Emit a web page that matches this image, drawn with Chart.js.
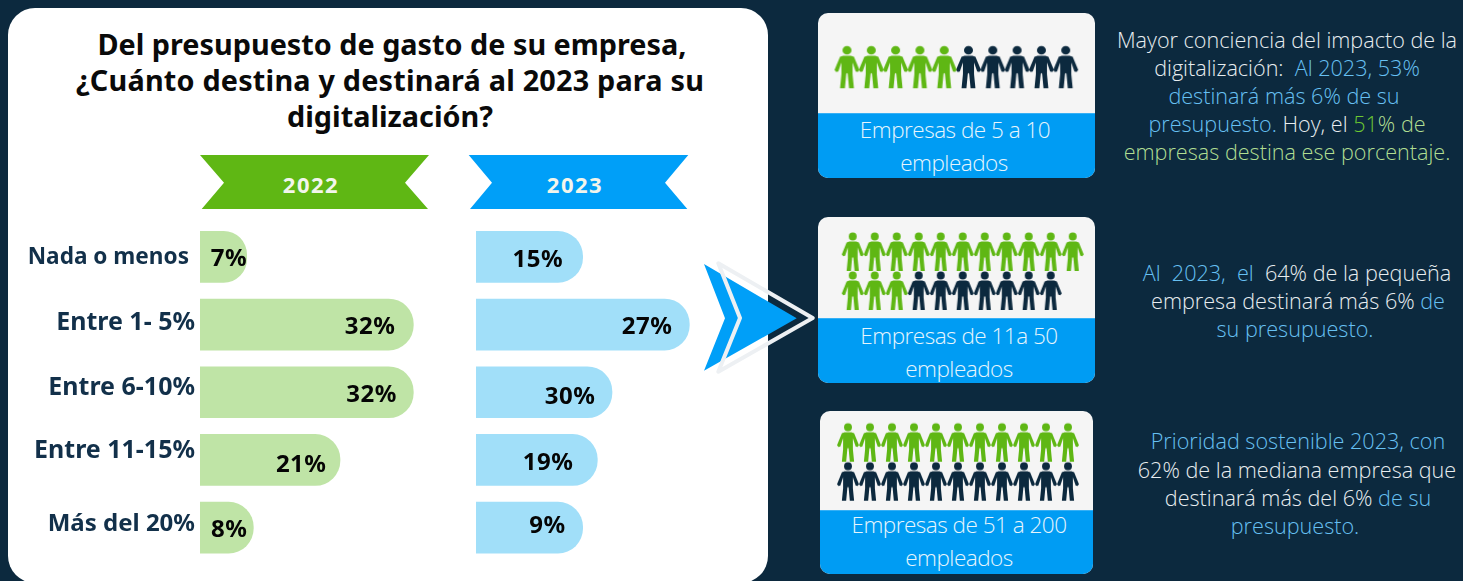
<!DOCTYPE html>
<html>
<head>
<meta charset="utf-8">
<script src="https://cdn.jsdelivr.net/npm/chart.js@4/dist/chart.umd.js"></script>
<style>
  html, body { margin: 0; padding: 0; background: #0c293e; }
  #page { position: relative; width: 1463px; height: 581px; overflow: hidden; background: #0c293e; }
  #panel { position: absolute; left: 8px; top: 8px; width: 760px; height: 575px; background: #fff; border-radius: 27px; }
  canvas { position: absolute; }
  svg { position: absolute; left: 0; top: 0; }
  .ln { position: absolute; white-space: nowrap; transform: translate(-50%, -50%); line-height: 1; }
  .title { font: 700 28.8px "Noto Sans"; color: #0a0a0a; }
  .ribbon { font: 700 22px "Noto Sans"; color: #f2f5ec; letter-spacing: 1.5px; }
  .card { position: absolute; background: #f5f5f5; border-radius: 10px; overflow: hidden; }
  .band { position: absolute; left: 0; right: 0; bottom: 0; background: #009cf3; border-top: 1px solid #36b0f5; }
  .cap { font: 300 22.5px "Open Sans"; color: #e6f5fd; letter-spacing: -0.5px; }
  .txt { font: 300 21.6px "Open Sans"; color: #e8edf0; }
  .b { color: #67c0f2; }
  .g { color: #b0de92; }
  .gg { color: #6cc832; }
</style>
</head>
<body>
<div id="page">
  <div id="panel"></div>

  <div class="ln title" style="left:392px;top:43px">Del presupuesto de gasto de su empresa,</div>
  <div class="ln title" style="left:390px;top:79px;letter-spacing:0.2px">¿Cuánto destina y destinará al 2023 para su</div>
  <div class="ln title" style="left:390px;top:115px">digitalización?</div>

  <svg width="1463" height="581">
    <polygon points="200,155 429,155 405,182.7 428,209 201.7,209 224,182.7" fill="#5fb714"/>
    <polygon points="468.7,155 688.3,155 665,182.7 687.3,209 470,209 492,182.7" fill="#009ff8"/>
    <polygon points="704,264 796.7,318.3 704,370.7 725,318.3" fill="#009ff8"/>
    <polygon points="718.3,263.3 812.7,318 718.3,371.7 740,318" fill="none" stroke="#edf0f3" stroke-width="4" stroke-linejoin="round"/>
  </svg>
  <div class="ln ribbon" style="left:311px;top:184px">2022</div>
  <div class="ln ribbon" style="left:575px;top:184px">2023</div>

  <canvas id="bars2022" width="440" height="340" style="left:0;top:222px"></canvas>
  <canvas id="bars2023" width="240" height="340" style="left:476px;top:222px"></canvas>

  <div class="card" style="left:818px;top:13px;width:277px;height:165px"><div class="band" style="height:64px"></div></div>
  <div class="card" style="left:818px;top:217px;width:277px;height:166px"><div class="band" style="height:64px"></div></div>
  <div class="card" style="left:820px;top:411px;width:273px;height:163px"><div class="band" style="height:63px"></div></div>

  <canvas id="people0"></canvas>
  <canvas id="people1"></canvas>
  <canvas id="people2"></canvas>

  <div class="ln cap" style="left:955px;top:129px">Empresas de 5 a 10</div>
  <div class="ln cap" style="left:954px;top:161.5px">empleados</div>
  <div class="ln cap" style="left:959px;top:335px">Empresas de 11a 50</div>
  <div class="ln cap" style="left:959px;top:367.5px">empleados</div>
  <div class="ln cap" style="left:959px;top:524px">Empresas de 51 a 200</div>
  <div class="ln cap" style="left:959px;top:556.5px">empleados</div>

  <div class="ln txt" style="left:1287px;top:39px">Mayor conciencia del impacto de la</div>
  <div class="ln txt" style="left:1287px;top:67px">digitalización:&nbsp; <span class="b">Al 2023, 53%</span></div>
  <div class="ln txt b" style="left:1284px;top:95px">destinará más 6% de su</div>
  <div class="ln txt" style="left:1287px;top:123px"><span class="b">presupuesto.</span> Hoy, el <span class="gg">51</span><span class="g">% de</span></div>
  <div class="ln txt g" style="left:1287px;top:151px">empresas destina ese porcentaje.</div>

  <div class="ln txt" style="left:1297px;top:272px"><span class="b">Al&nbsp; 2023,&nbsp; el</span>&nbsp; 64% de la pequeña</div>
  <div class="ln txt" style="left:1298px;top:300px">empresa destinará más 6% <span class="b">de</span></div>
  <div class="ln txt b" style="left:1295px;top:328px">su presupuesto.</div>

  <div class="ln txt b" style="left:1298px;top:440px">Prioridad sostenible 2023, con</div>
  <div class="ln txt" style="left:1297px;top:469px">62% de la mediana empresa que</div>
  <div class="ln txt" style="left:1298px;top:497px">destinará más del 6% <span class="b">de su</span></div>
  <div class="ln txt b" style="left:1295px;top:525px">presupuesto.</div>
</div>

<script>
const categories = ["Nada o menos", "Entre 1- 5%", "Entre 6-10%", "Entre 11-15%", "Más del 20%"];

const values2022 = [7, 32, 32, 21, 8];
const labels2022 = ["7%", "32%", "32%", "21%", "8%"];

// the 2023 bars in the picture are not proportional to what is printed on them,
// so the lengths are read off the picture on the same scale as 2022
const values2023 = [16, 32, 20.4, 18.2, 16];
const labels2023 = ["15%", "27%", "30%", "19%", "9%"];

const peopleTotal = [10, 21, 22];
const peopleGreen = [5, 14, 11];
const peoplePerRow = [10, 11, 11];

// text nudges, the labels in the original are not lined up with the bars
const catNudge = [[-11, 1], [-5, -1.4], [-5, -4], [-5, -9.4], [-5, -3.5]];
const catFont = [22.6, 25, 25, 25, 24];
const nudge2022 = [[0.5, 2], [-18, 2.5], [-16.5, 3], [-13.5, 5.5], [-6, 2.5]];
const nudge2023 = [[-19.5, 3.5], [-17, 2.5], [-16.7, 4.7], [-24, 3.5], [-17, -1.5]];

const peopleLayout = [
  { col0: 847, pitch: 24.3, row0: 66.7, rowPitch: 39, w: 25, h: 43 },
  { col0: 852.7, pitch: 22, row0: 251.5, rowPitch: 39, w: 22, h: 39 },
  { col0: 848, pitch: 22, row0: 442.2, rowPitch: 39, w: 22, h: 39 }
];

const barLabels = {
  id: "barLabels",
  afterDatasetsDraw(chart, args, opts) {
    const { ctx } = chart;
    const bars = chart.getDatasetMeta(0).data;
    ctx.save();
    ctx.textBaseline = "middle";
    ctx.textAlign = "right";
    ctx.font = '700 24px "Noto Sans"';
    ctx.letterSpacing = "0.5px";
    ctx.fillStyle = "#050505";
    bars.forEach((bar, i) => {
      ctx.fillText(opts.labels[i], bar.x + opts.nudge[i][0], bar.y + opts.nudge[i][1]);
    });
    ctx.letterSpacing = "0px";
    if (opts.cats) {
      const y = chart.scales.y;
      ctx.fillStyle = "#12304a";
      opts.cats.forEach((c, i) => {
        ctx.font = '700 ' + catFont[i] + 'px "Noto Sans"';
        ctx.fillText(c, chart.chartArea.left + catNudge[i][0], y.getPixelForValue(i) + catNudge[i][1]);
      });
    }
    ctx.restore();
  }
};

function barChart(id, values, labels, nudge, color, cats, padLeft) {
  return new Chart(document.getElementById(id), {
    type: "bar",
    data: {
      labels: categories,
      datasets: [{
        data: values,
        backgroundColor: color,
        barThickness: 51,
        borderSkipped: false,
        borderRadius: { topLeft: 0, bottomLeft: 0, topRight: 25, bottomRight: 25 }
      }]
    },
    options: {
      indexAxis: "y",
      responsive: false,
      animation: false,
      layout: { padding: { left: padLeft, top: 1, bottom: 0.5 } },
      scales: {
        x: { display: false, min: 0, max: 36 },
        y: { display: false }
      },
      plugins: {
        legend: { display: false },
        tooltip: { enabled: false },
        barLabels: { labels, nudge, cats }
      }
    },
    plugins: [barLabels]
  });
}

barChart("bars2022", values2022, labels2022, nudge2022, "#bfe4a6", categories, 200);
barChart("bars2023", values2023, labels2023, nudge2023, "#a1dff9", null, 0);

// little person icon used as the point style
function personIcon(w, h, color) {
  const c = document.createElement("canvas");
  c.width = Math.ceil(w) + 2;
  c.height = Math.ceil(h) + 2;
  const ctx = c.getContext("2d");
  ctx.translate(c.width / 2, c.height / 2 - h / 2);
  ctx.scale(w / 72, h / 130);
  ctx.fillStyle = color;
  ctx.beginPath();
  ctx.arc(0, 15, 13, 0, Math.PI * 2);
  ctx.fill();
  const half = [[0, 32], [11, 32], [20, 35], [36, 75], [31, 81], [25, 79], [16, 52], [16, 88], [20, 130], [6, 130], [2, 86], [0, 84]];
  ctx.beginPath();
  half.forEach(p => ctx.lineTo(p[0], p[1]));
  half.slice().reverse().forEach(p => ctx.lineTo(-p[0], p[1]));
  ctx.closePath();
  ctx.fill();
  return c;
}

peopleTotal.forEach((total, n) => {
  const lay = peopleLayout[n];
  const perRow = peoplePerRow[n];
  const rows = Math.ceil(total / perRow);
  const green = [];
  const navy = [];
  for (let i = 0; i < total; i++) {
    const pt = { x: i % perRow, y: Math.floor(i / perRow) };
    (i < peopleGreen[n] ? green : navy).push(pt);
  }

  const areaLeft = lay.col0 - lay.pitch / 2;
  const areaTop = lay.row0 - lay.rowPitch / 2 - (rows === 1 ? 2 : 0);
  const areaW = perRow * lay.pitch;
  const areaH = rows === 1 ? lay.rowPitch + 4 : rows * lay.rowPitch;
  const left = Math.floor(areaLeft) - 6;
  const top = Math.floor(areaTop) - 6;

  const cv = document.getElementById("people" + n);
  cv.width = Math.ceil(areaW) + 14;
  cv.height = Math.ceil(areaH) + 14;
  cv.style.left = left + "px";
  cv.style.top = top + "px";

  new Chart(cv, {
    type: "scatter",
    data: {
      datasets: [
        { data: green, pointStyle: personIcon(lay.w, lay.h, "#5fb714"), pointRadius: 3, clip: false },
        { data: navy, pointStyle: personIcon(lay.w, lay.h, "#0c293e"), pointRadius: 3, clip: false }
      ]
    },
    options: {
      responsive: false,
      animation: false,
      layout: {
        padding: {
          left: areaLeft - left,
          top: areaTop - top,
          right: cv.width - (areaLeft - left) - areaW,
          bottom: cv.height - (areaTop - top) - areaH
        }
      },
      scales: {
        x: { display: false, min: -0.5, max: perRow - 0.5 },
        y: { display: false, min: -0.5, max: rows - 0.5, reverse: true }
      },
      plugins: { legend: { display: false }, tooltip: { enabled: false } }
    }
  });
});
</script>
</body>
</html>
